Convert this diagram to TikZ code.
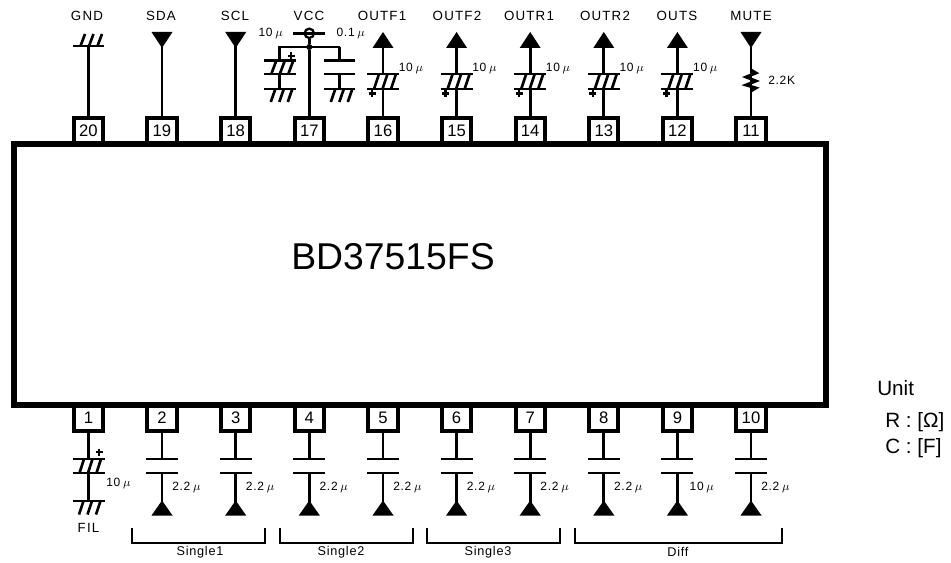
\documentclass[tikz,border=0pt]{standalone}
\usepackage{fontspec}
\usepackage{amsmath}
\setmainfont{Liberation Sans}
\newfontfamily\pinfont[LetterSpace=9]{Liberation Sans}
\newfontfamily\smallfont[LetterSpace=6]{Liberation Sans}
\usepackage{tikz}

\tikzset{
  wire/.style={line width=2.2pt},
  plate/.style={line width=2pt},
  hatch/.style={line width=2pt},
  tip/.style={fill=black, draw=none},
  pinbox/.style={draw, line width=3pt, fill=white, inner sep=0pt,
    minimum width=22pt, minimum height=20pt, font=\fontsize{12.5}{13}\selectfont},
  chipbox/.style={draw, line width=4.5pt, inner sep=0pt,
    minimum width=609pt, minimum height=195.5pt},
  pinname/.style={font=\pinfont\fontsize{10}{10}\selectfont, inner sep=0pt},
  value/.style={font=\smallfont\fontsize{9}{9}\selectfont, inner sep=0pt, anchor=west},
  bracket/.style={line width=1.1pt},
  unit/.style={font=\fontsize{15.5}{16}\selectfont, inner sep=0pt, anchor=base west}
}

\newcommand{\uF}{\hspace{2pt}$\mu$}

\begin{document}
\begin{tikzpicture}[x=.75pt, y=-.75pt]
  \useasboundingbox (0,0) rectangle (951,563);

  % pins along the top edge, right to left
  \foreach \n/\x in {
    20/88.5, 19/162, 18/235.7, 17/309.3, 16/383,
    15/456.6, 14/530.2, 13/603.8, 12/677.4, 11/751
  } {
    \node (pin-\n) [pinbox] at (\x,131) {\n};
  }

  % pins along the bottom edge
  \foreach \n/\x in {
    1/88.5, 2/162, 3/235.7, 4/309.3, 5/383,
    6/456.6, 7/530.2, 8/603.8, 9/677.4, 10/751
  } {
    \node (pin-\n) [pinbox] at (\x,418) {\n};
  }

  % the package goes over the pins
  \node (chip) [chipbox] at (419.5,274.5) {};
  \node (partname) [font=\fontsize{28}{28}\selectfont, inner sep=0pt] at (393,256.5) {BD37515FS};

  % names of the top pins
  \foreach \n/\t/\x in {
    20/GND/87, 19/SDA/161, 18/SCL/235, 17/VCC/309, 16/OUTF1/382,
    15/OUTF2/457, 14/OUTR1/529, 13/OUTR2/605, 12/OUTS/677, 11/MUTE/751
  } {
    \node (name-\n) [pinname] at (\x,16) {\t};
  }

  % ground on pin 20
  \begin{scope}[shift={(88.5,0)}]
    \coordinate (gnd-20) at (0,46);
    \draw [wire] (pin-20.north) -- (gnd-20);
    \draw [plate] (-15.5,46) -- (15.5,46);
    \foreach \d in {-8,0.5,9} {
      \draw [hatch] (\d,46) -- ++(4.5,-12);
    }
  \end{scope}

  % inputs with a triangle pointing down
  \foreach \n/\x in {19/162, 18/235.7, 11/751} {
    \begin{scope}[shift={(\x,0)}]
      \coordinate (in-\n) at (0,46);
      \fill [tip] (-10.5,32) -- (10.5,32) -- (0,48) -- cycle;
      \draw [wire] (pin-\n.north) -- (in-\n);
    \end{scope}
  }

  % outputs with a coupling capacitor
  \foreach \n/\x in {16/383, 15/456.6, 14/530.2, 13/603.8, 12/677.4} {
    \begin{scope}[shift={(\x,0)}]
      \coordinate (out-\n) at (0,46);
      \coordinate (capa-\n) at (0,74);
      \coordinate (capb-\n) at (0,89);
      \fill [tip] (0,32) -- (10.5,48) -- (-10.5,48) -- cycle;
      \draw [wire] (out-\n) -- (capa-\n);
      \draw [wire] (capb-\n) -- (pin-\n.north);
      \draw [plate] (-16,74) -- (16,74);
      \draw [plate] (-16,89) -- (16,89);
      \foreach \d in {-9,-0.5,8} {
        \draw [hatch] (\d,89) -- ++(5,-15);
      }
      \draw [line width=1.7pt] (-14.5,93.5) -- ++(7,0);
      \draw [line width=1.7pt] (-11,90) -- ++(0,7);
      \node (val-\n) [value] at (15.5,68) {10\uF};
    \end{scope}
  }

  % resistor on the mute pin
  \begin{scope}[shift={(751,0)}]
    \coordinate (resa-11) at (0,70);
    \coordinate (resb-11) at (0,91);
    \draw [wire] (in-11) -- (resa-11);
    \draw [wire] (resb-11) -- (pin-11.north);
    \draw [wire] (resa-11) -- (5,73) -- (-5,77) -- (5,81) -- (-5,85) -- (5,88) -- (resb-11);
    \node (val-11) [value] at (17,80) {2.2K};
  \end{scope}

  % supply pin with its two capacitors
  \begin{scope}[shift={(309.3,0)}]
    \node (vcc) [draw, circle, line width=1.7pt, fill=none, minimum size=7pt, inner sep=0pt] at (0,33.3) {};
    \node (joint) [fill=black, circle, minimum size=4.5pt, inner sep=0pt] at (0,47) {};
    \coordinate (bar-l) at (-16,33.3);
    \coordinate (bar-r) at (16,33.3);
    \coordinate (arm-l) at (-29.5,47);
    \coordinate (arm-r) at (30.5,47);
    \draw [wire] (bar-l) -- (bar-r);
    \draw [wire] (vcc) -- (joint);
    \draw [wire] (joint) -- (pin-17.north);
    \draw [wire] (arm-r) -- (arm-l) -- (-29.5,60.7);
    \draw [wire] (arm-r) -- (30.5,60.7);
    % left, polarised
    \draw [plate] (-45.5,60.7) -- (-13.5,60.7);
    \draw [plate] (-45.5,74) -- (-13.5,74);
    \foreach \d in {-38,-29.5,-21} {
      \draw [hatch] (\d,74) -- ++(5,-13.3);
    }
    \draw [wire] (-29.5,74) -- (-29.5,89);
    \draw [plate] (-45.5,89) -- (-13.5,89);
    \foreach \d in {-38,-29.5,-21} {
      \draw [hatch] (\d+4,89) -- ++(-4.5,13);
    }
    \draw [line width=1.7pt] (-21.5,56) -- ++(7,0);
    \draw [line width=1.7pt] (-18,52.5) -- ++(0,7);
    % right
    \draw [plate] (14.5,60.7) -- (46,60.7);
    \draw [plate] (14.5,74) -- (46,74);
    \draw [wire] (30.5,74) -- (30.5,89);
    \draw [plate] (14.5,89) -- (46,89);
    \foreach \d in {22,30.5,39} {
      \draw [hatch] (\d+4,89) -- ++(-4.5,13);
    }
    \node (val-17a) [value] at (-51,33) {10\uF};
    \node (val-17b) [value] at (27,33) {0.1\uF};
  \end{scope}

  % filter capacitor on pin 1
  \begin{scope}[shift={(88.5,0)}]
    \coordinate (capa-1) at (0,459);
    \coordinate (capb-1) at (0,473);
    \coordinate (gnd-1) at (0,501);
    \draw [wire] (pin-1.south) -- (capa-1);
    \draw [wire] (capb-1) -- (gnd-1);
    \draw [plate] (-16,459) -- (16,459);
    \draw [plate] (-16,473) -- (16,473);
    \draw [plate] (-16,501) -- (16,501);
    \foreach \d in {-9,-0.5,8} {
      \draw [hatch] (\d,473) -- ++(4.5,-14);
      \draw [hatch] (\d+4,501) -- ++(-4.5,13.5);
    }
    \draw [line width=1.7pt] (7,452) -- ++(7,0);
    \draw [line width=1.7pt] (10.5,448.5) -- ++(0,7);
    \node (val-1) [value] at (17.5,483) {10\uF};
    \node (name-1) [pinname] at (0,528) {FIL};
  \end{scope}

  % inputs through a capacitor from below
  \foreach \n/\x/\v/\o in {
    2/162/2.2/10, 3/235.7/2.2/10, 4/309.3/2.2/10, 5/383/2.2/10,
    6/456.6/2.2/10, 7/530.2/2.2/10, 8/603.8/2.2/10, 9/677.4/10/12, 10/751/2.2/10
  } {
    \begin{scope}[shift={(\x,0)}]
      \coordinate (capa-\n) at (0,459);
      \coordinate (capb-\n) at (0,473);
      \coordinate (in-\n) at (0,505);
      \draw [wire] (pin-\n.south) -- (capa-\n);
      \draw [wire] (capb-\n) -- (in-\n);
      \draw [plate] (-16,459) -- (16,459);
      \draw [plate] (-16,473) -- (16,473);
      \fill [tip] (0,500.5) -- (10.5,515.5) -- (-10.5,515.5) -- cycle;
      \node (val-\n) [value] at (\o,487) {\v\uF};
    \end{scope}
  }

  % brackets under the input groups
  \foreach \g/\t/\l/\r/\c in {
    a/Single1/132/265/200, b/Single2/280/413/341,
    c/Single3/427/560/488, d/Diff/575/782/678
  } {
    \coordinate (br-\g-l) at (\l,528);
    \coordinate (br-\g-r) at (\r,528);
    \draw [bracket] (br-\g-l) -- (\l,543) -- (\r,543) -- (br-\g-r);
    \node (grp-\g) [value, anchor=center, font=\smallfont\fontsize{9.5}{10}\selectfont] at (\c,552) {\t};
  }

  % units
  \node (unit) [unit] at (877,396) {Unit};
  \node (unit-r) [unit] at (885,427) {R : [Ω]};
  \node (unit-c) [unit] at (885,454) {C : [F]};
\end{tikzpicture}
\end{document}
